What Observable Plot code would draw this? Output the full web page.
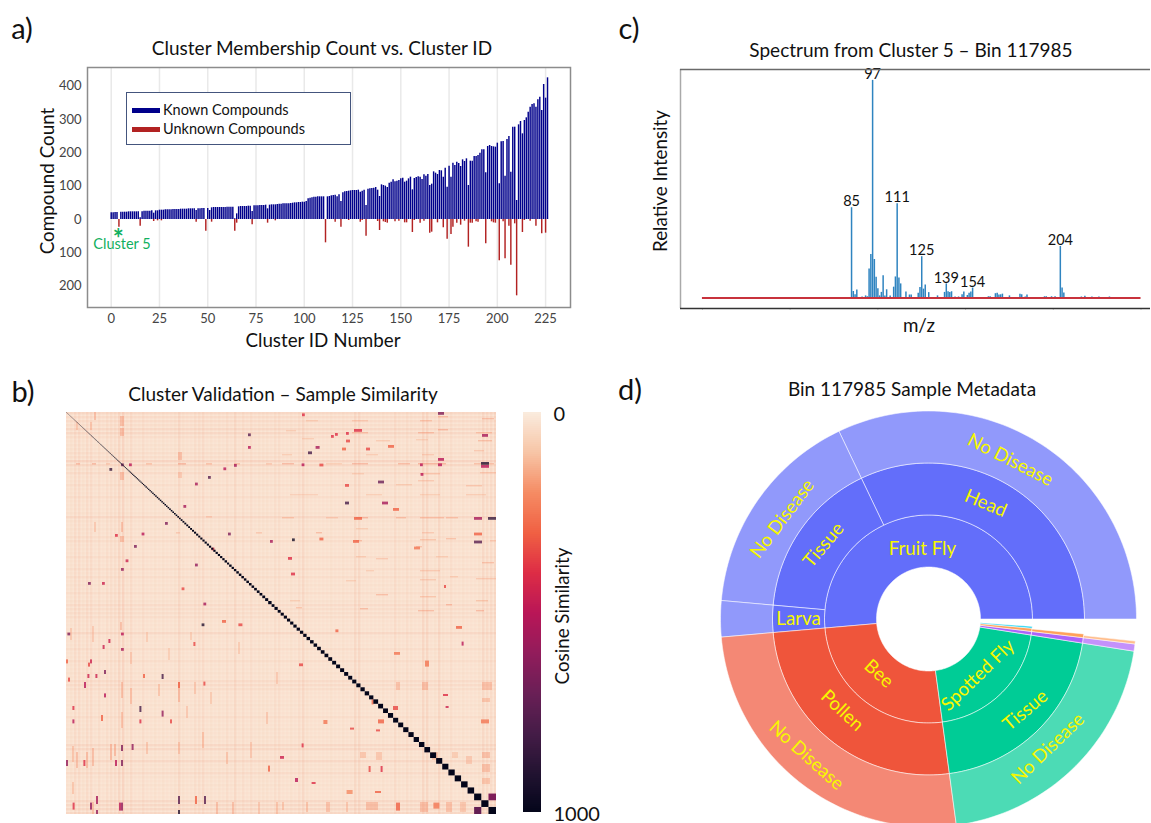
<!DOCTYPE html>
<html><head><meta charset="utf-8">
<script src="https://cdn.jsdelivr.net/npm/d3@7"></script>
<script src="https://cdn.jsdelivr.net/npm/@observablehq/plot@0.6"></script>
<style>
html,body{margin:0;padding:0;background:#fff;overflow:hidden}
#page{position:relative;width:1151px;height:823px;overflow:hidden;font-family:Lato,"Open Sans",sans-serif;color:#111}
#page svg{position:absolute;background:transparent}
.t{position:absolute;white-space:nowrap;transform:translate(-50%,-50%);line-height:1}
.title{font-size:19px}
.axis{font-size:18.8px}
.tag{font-size:29px}
.v{transform:translate(-50%,-50%) rotate(-90deg)}
#legend{position:absolute;left:126px;top:92px;width:223px;height:51px;border:1.5px solid #44557d;background:#fff;font-size:14.5px}
#legend .sw{position:absolute;left:5px;width:28px;height:5px}
#legend .lb{position:absolute;left:36px;line-height:1}
</style></head><body><div id="page"></div>
<script>
// ---------- panel a: bar counts, one entry per cluster position
const knownCounts = [
 20,20,21,21,0,22,22,22,22,23,23,23,23,23,23,5,23,25,25,25,25,26,19,26,26,28,
 28,28,29,29,29,29,30,30,30,30,31,31,31,31,32,32,32,32,27,32,32,33,33,0,33,27,
 35,36,36,36,36,36,36,36,37,37,37,37,2,17,38,39,39,39,39,40,40,24,41,41,41,42,42,42,43,32,
 43,44,44,44,45,46,46,47,47,47,47,48,49,50,50,51,51,52,52,54,62,64,65,67,67,68,68,68,68,0,
 68,69,71,72,73,68,74,54,80,83,84,85,86,87,87,87,88,82,85,88,42,91,92,93,94,96,88,69,
 104,102,100,96,109,112,119,113,115,117,122,124,112,115,122,127,89,123,126,128,127,120,
 134,130,135,102,106,143,139,135,147,146,127,154,97,160,127,169,162,172,168,159,179,174,182,102,
 175,175,189,189,192,199,209,209,140,219,222,219,218,217,229,107,233,234,130,240,249,142,
 277,277,57,284,294,257,297,305,322,337,345,347,337,359,367,327,405,364,425];
const unknownIds = [4,15,22,24,26,44,49,52,64,65,73,81,85,111,116,119,123,129,130,132,138,139,141,142,143,147,149,152,153,156,157,160,162,165,166,169,172,174,176,177,179,181,183,185,186,187,189,190,194,197,198,199,201,203,204,206,207,209,210,213,214,217,220,223,225];
const unknownVals = [23,20,6,4,4,8,35,8,35,11,16,11,4,70,8,23,3,8,3,50,6,33,7,9,11,7,5,10,10,39,3,11,5,41,38,10,25,59,45,23,11,17,5,83,11,11,7,8,73,7,10,11,124,7,118,20,137,13,229,39,3,5,20,43,41];
const xTicksA = [0,25,50,75,100,125,150,175,200,225];
const yTicksA = [-200,-100,0,100,200,300,400];

// ---------- panel c: spectrum peaks
const peakMz = [85,86,87,88,91,93,94,95,96,97,98,99,100,101,102,103,104,105,107,109,110,111,112,113,116,118,119,123,124,125,126,127,129,134,138,139,140,141,142,144,146,148,149,151,152,153,154,163,164,167,168,169,170,171,175,181,182,184,185,195,196,199,201,204,205,206,216,218,222,226,232];
const peakInt = [41.5,3,1.5,3.7,.5,1,.6,13.4,20,100,17.7,9.5,4.3,1,2.6,10.3,1,3.8,1,5,9.7,43.3,9.2,6.5,2.8,1.4,1.4,2.2,4.9,19,4.1,6,2.5,1,2.6,6.5,2.9,2.5,2.9,.5,.5,1.5,2.8,1.2,2.2,2.8,4.6,.6,.6,2,2.2,1.4,1.5,1.8,1,1.8,1.5,.5,1.4,.6,.6,.6,.6,23.7,4.6,2.3,.5,.8,.5,.5,.5];
const peakLabels = [85,97,111,125,139,154,204];
const mzTicks = [0,50,100,150,200,250];

// ---------- panel b: similarity heatmap (axes are sample ranks, in 2-px bins)
const rocketStops = ["#faebdd","#f7c4a5","#f58b63","#f06043","#dd2c45","#b91657","#921c5b","#6a1f56","#451c47","#221331","#03051a"];
const rowStripes = [5,4,4,3,5,5,3,1,2,2,3,3,7,6,2,4,1,1,3,1,1,3,1,1,1,2,5,2,1,2,1,3,3,1,1,1,3,1,1,3,1,3,1,2,1,3,1,2,4,3,3,3,1,1,1,5,1,1,1,3,1,1,3,1,1,2,1,4,4,3,1,1,1,2,1,1,3,1,1,2,1,2,1,5,5,1,2,5,2,2,4,2,1,2,1,1,1,5,5,5,5];
const colStripes = [1,2,4,4,2,4,4,1,3,1,3,3,3,6,7,2,4,1,1,3,1,1,2,1,2,1,1,2,5,2,1,1,3,3,4,1,2,1,2,1,3,1,5,1,3,1,3,1,2,2,2,1,3,3,1,1,2,1,3,5,2,1,1,1,1,1,2,1,1,2,1,1,5,5,1,1,1,1,1,2,1,1,4,2,1,3,2,1,1,6,6,1,2,6,2,1,3,1,1,2,1,1,1,2,5,4,4,5];
// [col, row, value, width, height]
const hotCells = [
 [91,10.7,750],[91,17,500],[84,26,550],[27.5,25.7,700],[31.5,25.7,500],[78.7,27.7,500],[21.7,28,850],[71,32,750],[64.5,35.3,550],[58.7,46.5,550],[49.5,55,650],[37.8,60.3,500],[81,60.3,650],[24.5,61,400],[102,64,550],[34,66.5,650],[64.5,75.8,600],[27.5,78,600],[29.8,73.7,450],[11,85,650],[18,85,450],[57.8,87.7,350],[68.7,95.3,550],[72.8,67.8,400],
 [118,.7,400],[186,0,650,3],[144,8.5,400,4],[208,11,550,3],[140,10,400],[132.5,11.5,400],[134.5,10.5,400],[140,13.8,350,2],[124.8,17,550,2],[121,19.7,800,2],[138,17.8,300,2],[150,17.8,350,2],[161,16.5,300,3],[186,23,500,3],[207.5,25,900,4],[207.5,26.5,500,4],[117.8,25.7,500],[126.7,25.8,350,2],[177,25.7,500],[186,25.7,500,2],[177.3,30.5,500],[156,34.3,700,3],[139.5,36,350,2],[139.5,44.8,800,2],[158,44.8,550,3],[163.5,48,300,3],[204,52.5,550,4],[211,52.5,850,4],[144,52.5,300,4],[113,63.2,950],[126.7,62.8,300,2],[204,60.3,300,4],[204,64.3,750,4],[143.5,64,300,3],[111,72.5,400,2],[112.5,80.3,400,2],[174,67.3,250,3],[189,86.5,350,1,1.5],
 [67.8,105.7,900],[86.2,105.7,350,2],[78,104,300,2],[27.5,110.3,500],[.7,110.3,650],[21.2,113.5,450,1,2],[18.3,116.5,450,1,2],[27.5,118,550],[63.7,115,350,1,2],[11,125.3,350,1,2],[12,123.7,450,1,2],[0,123.7,300,1,2],[19,129,650,1,2],[10.7,131,450,1,2],[14.7,131,450,1,2],[38.5,131,300,1,2],[47.8,131,800,1,2.5],[1,132.8,350,1,2],[9,135,500,1,3],[56,135,300,1,3],[68.7,134.8,350,1,2],[19,140.7,500,1,2],[36.7,147,800,1,3],[3.2,147,400,1,2],[47.8,149.3,600,1,3],[17.5,151.5,300,1,3],[3.2,153.7,500,1,2],[36.7,153.7,400,1,2],[52,153.7,350,1,2],[27.5,166.5,650,1,3],[32.8,166,600,1,3],[0,174,600,1,3],[27.5,174,650,1,3],[24.5,174,500,1,3],[8.7,174,400,1,3],[107,172,450,2],[101,176.8,300,1,3],[56,192,750,1,4],[69,192,750,1,4],[64.5,192,300,1,4],[15,192,550,1,4],[56,199,900,1,4],[15,199,600,1,4],[27.5,195.3,600,1,4],[26.5,195.3,500,1,4],[12,195.3,600,1,3.5],[3.3,195.3,400,1,3.5],
 [134.7,108.7,300,1.5],[195,107,300,3],[197.8,114.8,500,1,2],[164,120,250,3],[116.5,125.7,350,2],[179.5,124.3,250,2,3],[163.5,147,350,2.5,2],[156,153.7,300,3,2],[128.7,154,250,2,2],[207.5,153.7,250,4,2],[188.5,141,400,2.5,1],[189.8,147,450,1.5,1],[117.8,165.7,400,1,2],[114.5,183,500,1.5,2],[157.3,177,400,1,3],[152.8,143.7,300,1,2.5],[151.3,177,350,1,3],[165,195.3,300,2,4],[183.7,195.3,250,3,3],[155,158.7,350,2,1],[142,157.8,350,2,1],[122.8,185,400,2,1],[154.5,189.5,300,3,1],[140.3,189,200,3,2]
];
// faint dashes: [col, row, value, width, height]
const faintStreaks = [
 [120,4,160,6,.7],[143,4,170,8,.7],[177,4,200,6,.7],[186,2,220,5,.7],[208,3,220,6,.7],[110,9,150,5,.7],[143,10,220,8,.7],[176,10,230,8,.7],[186,8.5,250,5,.7],[205,10,200,8,.7],[118,13,150,6,.7],[155,14,160,7,.7],[175,13.5,150,6,.7],[206,14,220,7,.7],[108,21,150,5,.7],[150,21,160,6,.7],[178,21,170,6,.7],[204,19,170,5,.7],[108,25.5,260,6,.7],[143,25.5,260,8,.7],[166,25.5,250,6,.7],[176,25.5,300,14,.7],[204,25.5,220,10,.7],[130,25.5,150,8,.7],[143,30.5,150,6,.7],[177,30.5,180,10,.7],[207,30,170,8,.7],[165,36,160,8,.7],[200,36.5,180,8,.7],[176,34,170,8,.7],[112,41,140,14,.7],[150,41,150,8,.7],[177,41,150,10,.7],[200,41,160,10,.7],[108,52.5,200,6,.7],[130,52.5,170,6,.7],[145,52.5,260,6,.7],[165,52.5,220,5,.7],[177,52.5,210,12,.7],[190,52.5,210,6,.7],[125,60,240,3,.7],[145,58,150,6,.7],[178,60,170,6,.7],[145,64,240,3,.7],[177,63.5,190,8,.7],[190,63,200,5,.7],[212,64,170,4,.7],[175,67,210,3,.7],[145,72,160,5,.7],[185,72,150,6,.7],[155,73,170,6,.7],[177,79,170,10,.7],[208,75,220,6,.7],[150,79,150,4,.7],[140,84,150,5,.7],[177,83.5,170,8,.7],[205,83,170,10,.7],[192,82,160,4,.7],[155,91,230,6,.7],[177,92,190,8,.7],[205,94,190,6,.7],[112,94,150,5,.7],[115,97.5,200,3,.7],[147,98,230,4,.7],[176,99,240,8,.7],[205,99,250,4,.7],[190,96,250,3,.7],
 [3,167,200,1,8],[3,185,190,1,6],[5,170,230,1,8],[10,170,220,1,8],[13,168,230,1,9],[13,195,220,1,6],[22,166,240,1,8],[24,166,240,1,6],[27.5,150,210,1,8],[27.5,135,220,1,8],[32,120,170,1,6],[32,138,210,1,8],[40,165,180,1,6],[46,136,190,1,6],[56,135,230,1,10],[56,165,190,1,6],[60,147,170,1,6],[64,135,170,1,6],[68,160,200,1,8],[72,140,160,1,6],[75,195,230,1,8],[80,170,180,1,6],[83,195,230,1,6],[92,165,170,1,8],[96,195,170,1,6],[100,150,170,1,6],[105,130,170,1,6],[105,195,200,1,6],[108,195,190,1,4],[2,108,170,1,6],[13,107,170,1,8],[27,105,220,1,4],[40,110,150,1,5],[51,118,150,1,6],[62,110,150,1,4],[86,115,160,1,6],
 [208,170,220,4,3],[208,176,220,4,4],[208,183,200,4,3],[208,135,210,5,4],[208,143,200,4,2],[165,135,210,2,4],[178,135,220,3,4],[183,170,210,3,4],[177,195,230,4,5],[190,195,210,3,5],[197,195,180,3,5],[150,195,220,6,4],[130,195,210,2,5],[120,195,200,1,5],[140,195,180,1,5],[155,170,180,3,4],[147,170,190,3,3],[200,172,170,3,4],[193,170,160,3,3],
 [5,25.5,250,2,.8],[13,25.5,260,2,.8],[27,2,220,2,5],[14,0,220,1,4],[27,8,230,2,4],[27,30,230,2,4],[56,20,230,2,4],[56,30,170,2,3],[5,5,180,1,4],[12,5,180,1,4],[20,25.5,170,2,.8],[40,25.5,200,3,.8],[56,25.5,270,4,.8],[70,25.5,210,3,.8],[84,25.5,230,3,.8],[100,25.5,170,3,.8],[27.5,55,220,1,5],[27,62,220,2,3],[14,55,170,1,5],[55,60,170,2,.8],[70,52,170,3,.8],[95,60,170,3,.8]
];
// [row cluster position, column cluster position, value]
const offDiagonalBlocks = [[224,226,650],[226,224,720]];

// ---------- panel d: sunburst, spans in degrees counter-clockwise from east
const ringOneNames = ["Fruit Fly","Bee","Spotted Fly","Group 4","Group 5","Group 6"];
const ringOneSpans = [185,92.7,73.4,2,1.8,1];
const ringOneColors = ["#636efa","#ef553b","#00cc96","#ab63fa","#ffa15a","#19d3f3"];
const ringTwoNames = ["Head","Tissue","Larva","Pollen","Tissue","Group 4 part","Group 5 part"];
const ringTwoSpans = [115.5,59.4,10.1,92.7,73.4,2,1.4];
const ringTwoColors = ["#636efa","#636efa","#636efa","#ef553b","#00cc96","#ab63fa","#ffa15a"];
const ringThreeNames = ["No Disease","No Disease","No Disease","No Disease","No Disease","Group 4 disease","Group 5 disease"];
const ringThreeSpans = [115.5,59.4,10.1,92.7,73.4,2,.8];
const ringThreeColors = ringTwoColors;
const sunLabels = ["Fruit Fly","Head","No Disease","Tissue","No Disease","Larva","Bee","Pollen","No Disease","Spotted Fly","Tissue","No Disease"];
const sunLabelRadius = [1.35,2.48,3.44,2.47,3.41,2.5,1.42,2.42,3.52,1.44,2.56,3.39];
const sunLabelAngle = [95,63.7,62.8,144.8,145.6,180,227.8,226.7,228.2,311.3,316.7,312.7];
const sunLabelTilt = [0,23,27,-50,-53,0,42,43,42,-44,-40,-44];

// ---------- page helpers
const page = document.getElementById("page");
const FONT = 'Lato,"Open Sans",sans-serif';
function place(svg,left,top){svg.style.left=left+"px";svg.style.top=top+"px";page.appendChild(svg);}
function text(str,x,y,cls){const d=document.createElement("div");d.className="t "+cls;d.textContent=str;d.style.left=x+"px";d.style.top=y+"px";page.appendChild(d);}

text("a)",22,27,"tag");text("c)",629,27,"tag");text("b)",23,390,"tag");text("d)",630,388,"tag");
text("Cluster Membership Count vs. Cluster ID",322,47,"title");
text("Spectrum from Cluster 5 – Bin 117985",911,49,"title");
text("Cluster Validation – Sample Similarity",283,393,"title");
text("Bin 117985 Sample Metadata",912,388,"title");

// ---------- panel a
const known = knownCounts.map((count,id)=>({id,count}));
const unknown = unknownIds.map((id,i)=>({id,count:unknownVals[i]}));
place(Plot.plot({
  width:540,height:290,marginLeft:47,marginRight:10,marginTop:7,marginBottom:43,
  style:{fontFamily:FONT,color:"#111"},
  x:{domain:[-12.28,237.9]},
  y:{domain:[-264,456]},
  marks:[
    Plot.ruleX(xTicksA,{stroke:"#e9e9e9",strokeWidth:1.5}),
    Plot.ruleX(known,{x:"id",y1:0,y2:"count",stroke:"#00008b",strokeWidth:1.45}),
    Plot.ruleX(unknown,{x:"id",y1:0,y2:d=>-d.count,stroke:"#b22222",strokeWidth:1.45}),
    Plot.frame({stroke:"#8c8c8c",strokeWidth:1.5}),
    Plot.axisY(yTicksA,{tickFormat:Math.abs,tickSize:0,tickPadding:6,fontSize:13,color:"#444",label:null}),
    Plot.axisX(xTicksA,{tickSize:0,tickPadding:6,fontSize:13,color:"#444",label:null}),
    Plot.text([{x:3.6,y:-62}],{x:"x",y:"y",text:()=>"*",fill:"#10b060",fontSize:26,fontWeight:700}),
    Plot.text([{x:5.6,y:-76}],{x:"x",y:"y",text:()=>"Cluster 5",fill:"#10b060",fontSize:14.5})
  ]}),40,60);
text("Cluster ID Number",323,340,"axis");
text("Compound Count",47,181,"axis v");
const legend=document.createElement("div");legend.id="legend";
legend.innerHTML='<div class="sw" style="top:15px;background:#00008b"></div><div class="lb" style="top:10px">Known Compounds</div><div class="sw" style="top:34px;background:#b22222"></div><div class="lb" style="top:29px">Unknown Compounds</div>';
page.appendChild(legend);

// ---------- panel c
const peaks = peakMz.map((mz,i)=>({mz,intensity:peakInt[i]}));
place(Plot.plot({
  width:511,height:270,marginLeft:40,marginRight:1,marginTop:9,marginBottom:22,
  style:{fontFamily:FONT,color:"#111"},
  x:{domain:[-12.5,255.4]},
  y:{domain:[-4.8,105],axis:null},
  marks:[
    Plot.ruleX(peaks,{x:"mz",y1:0,y2:"intensity",stroke:"#2f84c0",strokeWidth:1.5}),
    Plot.ruleY([0],{x1:0,x2:250,stroke:"#c8323c",strokeWidth:2}),
    Plot.text(peaks.filter(d=>peakLabels.includes(d.mz)),{x:"mz",y:"intensity",text:d=>String(d.mz),dy:-6,textAnchor:"middle",fontSize:14.5,fill:"#111"}),
    Plot.axisX(mzTicks,{tickSize:2,tickFormat:()=>"",stroke:"#ccc",label:null}),
    Plot.ruleX([-12.5],{stroke:"#a9a9a9",strokeWidth:1.5}),
    Plot.ruleY([105],{stroke:"#6a6a6a",strokeWidth:1.5}),
    Plot.ruleY([-4.8],{stroke:"#333",strokeWidth:1.5})
  ]}),640,60);
text("m/z",919,325,"axis");
text("Relative Intensity",660,181,"axis v");

// ---------- panel b
const T = d3.sum(knownCounts,(c,i)=>c+(unknownVals[unknownIds.indexOf(i)]||0));
let run=0;
const clusters = knownCounts.map((c,i)=>{const size=c+(unknownVals[unknownIds.indexOf(i)]||0);const o={i,start:run/T,end:(run+size)/T};run+=size;return o;});
const rowBands = rowStripes.map((v,i)=>({i,v}));
const colBands = colStripes.map((v,i)=>({i,v}));
const cells = hotCells.map(([col,row,value,w=1.4,h=1.4])=>({col,row,value,w,h}));
const streaks = faintStreaks.map(([col,row,value,w,h])=>({col,row,value,w,h}));
const blocks = offDiagonalBlocks.map(([r,c,value])=>({r:clusters[r],c:clusters[c],value}));
const colorOpts = {type:"linear",domain:d3.range(11).map(i=>i*100),range:rocketStops};
const HW=215,HH=201;
place(Plot.plot({
  width:430,height:402,margin:0,
  x:{domain:[0,HW],axis:null},y:{domain:[HH,0],axis:null},color:colorOpts,
  marks:[
    Plot.rect([12],{x1:0,x2:HW,y1:0,y2:HH,fill:d=>d}),
    Plot.rect(rowBands,{x1:0,x2:HW,y1:d=>d.i*2,y2:d=>d.i*2+1.2,fill:"#f0845f",fillOpacity:d=>d.v*.022}),
    Plot.rect(colBands,{x1:d=>d.i*2,x2:d=>d.i*2+1.2,y1:0,y2:HH,fill:"#f0845f",fillOpacity:d=>d.v*.022}),
    Plot.rect(streaks,{x1:"col",x2:d=>d.col+d.w,y1:"row",y2:d=>d.row+d.h,fill:"value",fillOpacity:.35}),
    Plot.rect(cells,{x1:"col",x2:d=>d.col+d.w,y1:"row",y2:d=>d.row+d.h,fill:"value",fillOpacity:.8}),
    Plot.rect(blocks,{x1:d=>d.c.start*HW,x2:d=>d.c.end*HW,y1:d=>d.r.start*HH,y2:d=>d.r.end*HH,fill:"value"}),
    Plot.rect(clusters,{x1:d=>d.start*HW,x2:d=>d.end*HW,y1:d=>d.start*HH,y2:d=>d.end*HH,fill:()=>1000})
  ]}),66,412);

// colour bar
const barValues = d3.range(0,1000,5);
place(Plot.plot({
  width:95,height:420,marginLeft:3,marginRight:74,marginTop:10,marginBottom:10,
  style:{fontFamily:FONT,color:"#111"},
  x:{domain:[0,1],axis:null},y:{domain:[1000,0]},color:colorOpts,
  marks:[
    Plot.rect(barValues,{x1:0,x2:1,y1:d=>d,y2:d=>d+5,fill:d=>d}),
    Plot.axisY([0,1000],{anchor:"right",tickSize:0,tickPadding:12,fontSize:20,dy:2,tickFormat:d=>String(d),color:"#111",label:null})
  ]}),520,402);
text("Cosine Similarity",562,616,"axis v");

// ---------- panel d
function ringSlices(names,spans,colors,ring,opacity){let a=0;return names.map((name,i)=>{const s={name,a0:a,a1:a+spans[i],color:colors[i],ring,opacity};a+=spans[i];return s;});}
const slices=[...ringSlices(ringOneNames,ringOneSpans,ringOneColors,1,1),...ringSlices(ringTwoNames,ringTwoSpans,ringTwoColors,2,1),...ringSlices(ringThreeNames,ringThreeSpans,ringThreeColors,3,.7)];
const rad=d=>d*Math.PI/180;
const outline=slices.flatMap((s,id)=>{
  const steps=Math.max(2,Math.ceil((s.a1-s.a0)/1.5));
  const arc=d3.range(steps+1).map(k=>s.a0+(s.a1-s.a0)*k/steps);
  const pts=[...arc.map(a=>[s.ring+1,a]),...arc.slice().reverse().map(a=>[s.ring,a])];
  pts.push(pts[0]);
  return pts.map(([r,a])=>({id,px:r*Math.cos(rad(a)),py:r*Math.sin(rad(a)),color:s.color,opacity:s.opacity}));
});
const labels=sunLabels.map((name,i)=>({name,x:sunLabelRadius[i]*Math.cos(rad(sunLabelAngle[i])),y:sunLabelRadius[i]*Math.sin(rad(sunLabelAngle[i])),tilt:sunLabelTilt[i]}));
place(Plot.plot({
  width:451,height:423,margin:0,
  style:{fontFamily:FONT},
  x:{domain:[-228/52,223/52],axis:null},y:{domain:[-204.5/52,218.5/52],axis:null},
  marks:[
    Plot.line(outline,{x:"px",y:"py",z:"id",fill:"color",fillOpacity:"opacity",stroke:"#fff",strokeOpacity:.6,strokeWidth:.9,curve:"linear-closed"}),
    Plot.text(labels,{x:"x",y:"y",text:"name",rotate:"tilt",fill:"#f7f700",fontSize:18.7})
  ]}),700,400);
</script></body></html>
